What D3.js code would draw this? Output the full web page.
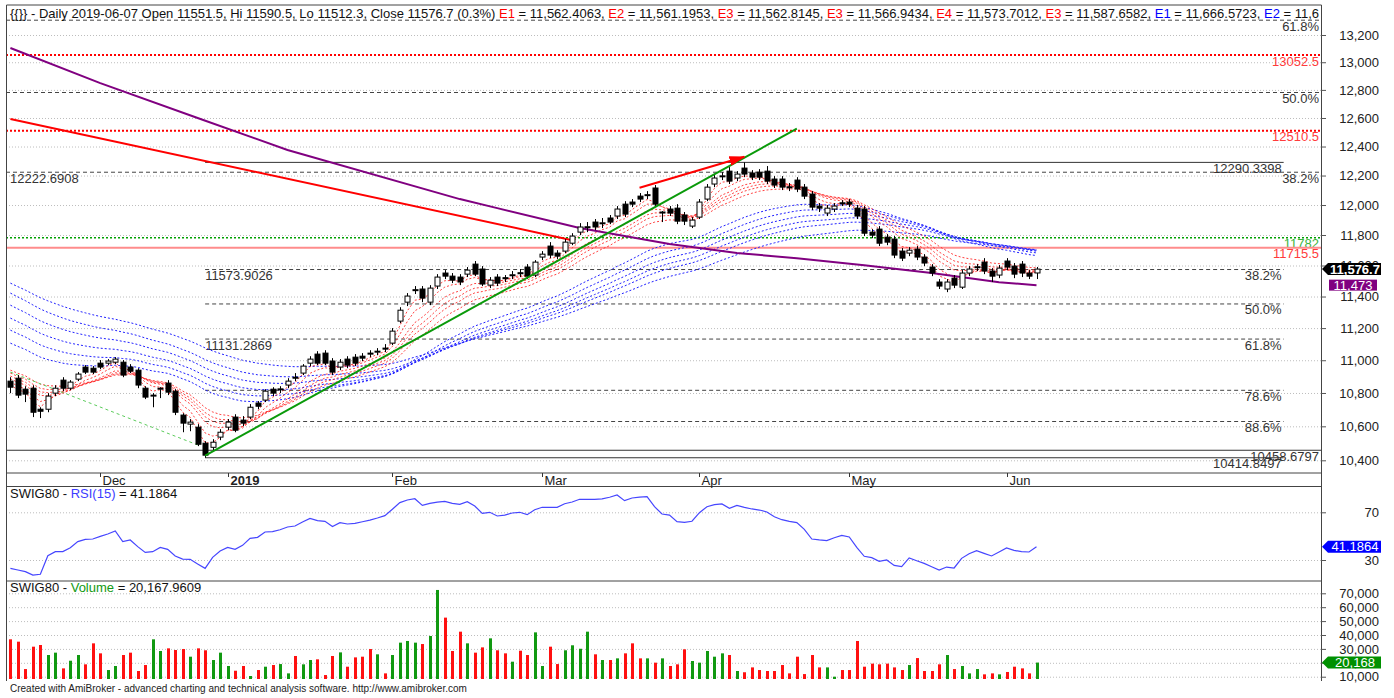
<!DOCTYPE html>
<html>
<head>
<meta charset="utf-8">
<script src="https://cdn.jsdelivr.net/npm/d3@7"></script>
<style>
  body { margin: 0; background: #fff; }
  svg { display: block; font-family: "Liberation Sans", Arial, sans-serif; }
</style>
</head>
<body>
<div id="chart"></div>
<script>
// SWIG80 daily, 2018-11-15 .. 2019-06-07 (one entry per session)
const opens = [
  10872,10890,10823,10829,10702,10702,10799,10878,10829,10884,
  10958,10951,10982,10982,10988,10988,10958,10939,10829,10781,
  10823,10860,10811,10667,10613,10595,10500,10476,10536,10595,
  10655,10637,10655,10739,10757,10823,10821,10848,10896,10921,
  10982,11038,11044,10995,10958,11007,11019,11025,11044,11050,
  11075,11106,11244,11364,11441,11448,11364,11467,11551,11531,
  11525,11544,11609,11577,11473,11525,11521,11536,11553,11590,
  11538,11655,11727,11681,11694,11746,11819,11850,11886,11877,
  11913,11926,12006,12020,12060,12065,12115,11950,11973,11979,
  11933,11859,11919,12040,12142,12194,12230,12183,12251,12217,
  12223,12230,12176,12176,12123,12169,12121,12074,11993,11946,
  11973,12015,12020,11979,11973,11819,11839,11786,11773,11694,
  11681,11707,11655,11590,11493,11448,11518,11460,11551,11588,
  11622,11564,11538,11629,11596,11609,11551,11551.5
];
const highs = [
  10896,10909,10841,10847,10714,10799,10847,10896,10878,10927,
  10970,10964,11001,11007,11019,11001,10976,10951,10841,10799,
  10835,10878,10823,10678,10643,10613,10512,10524,10583,10643,
  10672,10661,10733,10751,10823,10835,10841,10890,10921,10976,
  11025,11056,11062,11013,11007,11025,11038,11044,11062,11075,
  11100,11200,11332,11422,11467,11467,11473,11544,11570,11551,
  11544,11590,11629,11596,11525,11544,11538,11564,11577,11609,
  11635,11694,11753,11700,11773,11812,11879,11886,11906,11913,
  11933,11993,12026,12040,12081,12094,12135,11959,11993,12006,
  11953,11919,12040,12142,12203,12223,12258,12230,12290.34,12237,
  12244,12265,12196,12196,12149,12189,12142,12094,12013,12000,
  12013,12033,12040,12000,11993,11839,11859,11806,11793,11714,
  11720,11727,11674,11609,11512,11512,11538,11570,11596,11609,
  11648,11583,11603,11648,11616,11629,11570,11590.5
];
const lows = [
  10799,10769,10745,10655,10649,10684,10781,10811,10817,10872,
  10915,10915,10945,10970,10976,10896,10921,10829,10763,10714,
  10769,10787,10667,10565,10571,10483,10414.85,10459,10518,10577,
  10565,10601,10643,10702,10745,10781,10799,10829,10872,10909,
  10964,10970,10970,10909,10939,10951,10964,10995,11019,11031,
  11050,11094,11231,11339,11416,11364,11345,11448,11512,11486,
  11473,11525,11531,11467,11454,11467,11493,11512,11525,11512,
  11525,11635,11648,11642,11681,11733,11799,11819,11832,11846,
  11872,11906,11919,11986,12020,12040,11986,11886,11926,11872,
  11866,11846,11906,12026,12121,12169,12142,12162,12189,12169,
  12169,12142,12115,12101,12094,12087,12040,11966,11953,11926,
  11953,11993,11986,11906,11793,11779,11727,11733,11648,11629,
  11661,11635,11596,11531,11448,11428,11454,11448,11531,11564,
  11544,11493,11518,11570,11518,11525,11512,11512.3
];
const closes = [
  10835,10787,10793,10684,10690,10781,10829,10829,10866,10915,
  10927,10927,10958,10995,11007,10909,10933,10848,10775,10787,
  10829,10805,10684,10619,10625,10494,10430,10506,10565,10625,
  10577,10619,10714,10720,10811,10799,10825,10872,10890,10964,
  11007,10982,10982,10927,10988,10970,10982,11013,11038,11056,
  11072,11181,11313,11403,11444,11390,11454,11525,11531,11505,
  11493,11570,11544,11480,11505,11486,11516,11540,11548,11531,
  11622,11674,11668,11661,11753,11793,11853,11855,11853,11881,
  11886,11973,11939,12006,12040,12070,12006,11953,11946,11892,
  11892,11899,12020,12121,12183,12198,12162,12210,12210,12189,
  12189,12162,12135,12121,12119,12108,12060,11986,11979,11979,
  11993,12011,12006,11926,11812,11799,11746,11753,11668,11648,
  11700,11655,11616,11551,11467,11493,11473,11551,11577,11592,
  11564,11531,11583,11590,11544,11551,11531,11576.7
];
const volumes = [
  36900,35200,15500,31600,32800,25600,27300,16000,21500,25600,
  18900,34000,26800,14800,17700,25600,27300,14100,18400,36900,
  28500,30400,29200,29900,24400,30400,29000,22000,27300,17700,
  14300,17700,10500,14800,17200,18400,19100,12400,24900,18900,
  22000,22500,11200,24900,27500,17200,23900,24400,29900,26100,
  12400,25600,34500,35700,34500,33500,39300,72400,52500,28500,
  42400,34000,27300,31100,37600,29000,26800,20800,28700,25600,
  41900,17700,31600,19100,29000,32600,30100,42400,26100,22000,
  22000,23200,26800,34000,23200,23200,20100,23200,17700,18900,
  29700,21300,20100,28500,24400,26800,25600,14100,13200,16700,
  14800,14100,14100,18400,12400,24400,11900,25600,16700,16700,
  10000,14800,14800,35700,17200,19400,18900,19400,16700,14800,
  18400,23400,14100,14100,18900,25600,15500,17700,12400,15500,
  11700,12400,11700,13400,17200,16000,12400,20168
];
const rsi = [
  23.0,21.6,20.2,17.4,18.0,33.6,37.0,37.0,40.3,45.4,
  47.3,47.6,49.8,51.8,54.3,45.4,46.8,41.2,36.4,37.0,
  40.6,38.9,33.4,30.8,30.6,26.6,23.0,32.2,37.5,40.6,
  38.9,42.3,48.2,49.0,53.5,53.8,55.4,57.7,58.5,61.9,
  64.9,63.0,62.4,58.0,61.3,60.2,60.7,62.1,63.5,65.2,
  67.2,72.5,78.1,80.3,81.4,75.8,77.5,78.6,79.2,77.5,
  76.7,78.9,75.3,69.1,70.0,66.9,67.7,69.4,70.0,68.0,
  72.2,74.2,74.2,74.2,77.2,78.6,80.9,80.9,80.9,81.2,
  82.6,84.5,79.8,82.0,82.8,83.1,74.7,68.6,67.7,62.1,
  61.6,62.5,69.7,74.7,76.4,77.0,73.3,75.8,74.2,72.8,
  71.9,70.3,66.3,63.8,62.4,61.3,55.7,47.6,46.8,46.2,
  48.7,50.7,49.3,40.6,33.1,32.0,28.9,30.0,25.5,24.4,
  31.7,29.4,27.2,24.4,21.6,24.1,23.3,31.4,35.3,37.8,
  35.6,33.4,36.7,40.1,38.1,37.0,36.7,41.19
];

// first session of each month (bar index)
const monthTicks = [
  { label: "Dec", bar: 12 }, { label: "2019", bar: 29, bold: true }, { label: "Feb", bar: 51 },
  { label: "Mar", bar: 71 }, { label: "Apr", bar: 92 }, { label: "May", bar: 112 }, { label: "Jun", bar: 133 }
];
const priceTicks = [13200, 13000, 12800, 12600, 12400, 12200, 12000, 11800, 11600, 11400, 11200, 11000, 10800, 10600, 10400];
const rsiTicks = [70, 30];
const volumeTicks = [70000, 60000, 50000, 40000, 30000, 20000, 10000];

// GMMA ribbons: periods and their value on the first bar
const redPeriods = [3, 5, 8, 10, 12, 15];
const redSeeds = [10850, 10868, 10886, 10903, 10921, 10939];
const bluePeriods = [30, 35, 40, 45, 50, 60];
const blueSeeds = [11106, 11187, 11263, 11345, 11422, 11486];

// purple long average [bar, value]
const purpleLine = [[0,13104],[12,12849],[25,12600],[37,12376],[60,12040],[65,11979],[76,11846],
  [88,11740],[97,11681],[105,11648],[114,11602],[123,11551],[132,11492],[137,11473]];

// hand drawn studies [bar, price]
const redTrend = [[0, 12593], [75, 11766]];
const greenTrend = [[26, 10427], [105, 12525]];
const redArrow = [[84, 12117], [98, 12329]];
const greenDashed = [[0, 10927], [25, 10490]];

// fibonacci set over the whole chart
const fibWide = [
  { price: 13310, label: "61.8%" },
  { price: 12781.2, label: "50.0%" },
  { price: 12222.6908, label: "38.2%", left: "12222.6908" }
];
// fibonacci set from the December low
const fibShort = [
  { price: 12290.3398, label: "12290.3398", solid: true },
  { price: 11573.9026, label: "38.2%", left: "11573.9026" },
  { price: 11352.6, label: "50.0%" },
  { price: 11131.2869, label: "61.8%", left: "11131.2869" },
  { price: 10816.2, label: "78.6%" },
  { price: 10628.66, label: "88.6%" },
  { price: 10414.8497, label: "10414.8497", solid: true }
];
const fibShortBars = [26, 170];
const levels = [
  { price: 13052.5, color: "#ff0000", text: "#ff3b3b", width: 2, dash: "2,2" },
  { price: 12510.5, color: "#ff0000", text: "#ff3b3b", width: 2, dash: "2,2" },
  { price: 11782, color: "#00a000", text: "#3cb43c", width: 1.6, dash: "2,2" },
  { price: 11715.5, color: "#ff8c8c", text: "#ff3b3b", width: 2, dash: null },
  { price: 10458.6797, color: "#333", text: "#333", width: 1, dash: null, label: "10458.6797" }
];

// ---------------- layout ----------------
const plotL = 6, plotR = 1321;
const mainTop = 5, mainBot = 473, dateBot = 486.5, rsiBot = 581, volBot = 681;
const n = closes.length;

const svg = d3.select("#chart").append("svg").attr("width", 1394).attr("height", 698);
const defs = svg.append("defs");
defs.append("clipPath").attr("id", "clipMain").append("rect")
  .attr("x", plotL).attr("y", mainTop).attr("width", plotR - plotL).attr("height", mainBot - mainTop);
defs.append("clipPath").attr("id", "clipTitle").append("rect")
  .attr("x", 0).attr("y", 0).attr("width", plotR - 2).attr("height", 40);
defs.append("marker").attr("id", "arrowRed").attr("viewBox", "0 0 16 10")
  .attr("refX", 15).attr("refY", 5).attr("markerWidth", 16).attr("markerHeight", 10)
  .attr("markerUnits", "userSpaceOnUse").attr("orient", "auto")
  .append("path").attr("d", "M0,0L16,5L0,10z").attr("fill", "#ff0000");

const x = d3.scaleLinear().domain([0, n - 1]).range([10.4, 1036.5]);
const y = d3.scaleLog().domain([10400, 13200]).range([460.3, 35]);
const yR = d3.scaleLinear().domain([30, 70]).range([560, 512.3]);
const yV = d3.scaleLinear().domain([8350, 70000]).range([679, 593.3]);

// dotted grid + right axis for a panel
const addGrid = (scale, ticks) => {
  svg.append("g").attr("transform", `translate(${plotL},0)`)
    .call(d3.axisRight(scale).tickValues(ticks).tickSize(plotR - plotL).tickFormat(""))
    .call(g => g.select(".domain").remove())
    .selectAll(".tick line")
    .attr("stroke", "#bdbdbd").attr("stroke-dasharray", "1,2");
};
const addAxis = (scale, ticks, fmt) => {
  const g = svg.append("g").attr("transform", `translate(${plotR},0)`)
    .call(d3.axisRight(scale).tickValues(ticks).tickSize(5).tickFormat(fmt));
  g.select(".domain").remove();
  g.selectAll(".tick line").attr("stroke", "#555");
  g.selectAll("text").attr("x", 58).attr("text-anchor", "end")
    .attr("font-size", 13).attr("fill", "#222");
};

addGrid(y, priceTicks);
addGrid(yR, rsiTicks);
addGrid(yV, volumeTicks);

// ---------------- main panel ----------------
const main = svg.append("g").attr("clip-path", "url(#clipMain)");
const priceLine = d3.line().x(d => x(d[0])).y(d => y(d[1]));

// fib lines across the whole chart
fibWide.forEach(f => {
  main.append("line").attr("x1", plotL).attr("x2", plotR).attr("y1", y(f.price)).attr("y2", y(f.price))
    .attr("stroke", "#444").attr("stroke-dasharray", "4,3");
  main.append("text").attr("x", plotR - 2).attr("y", y(f.price) + 10.5).attr("text-anchor", "end")
    .attr("font-size", 13).attr("fill", "#333").text(f.label);
  if (f.left) main.append("text").attr("x", 10).attr("y", y(f.price) + 10.5)
    .attr("font-size", 13).attr("fill", "#333").text(f.left);
});

// fib lines from the December low
fibShort.forEach(f => {
  const x0 = x(fibShortBars[0]), x1 = x(fibShortBars[1]);
  main.append("line").attr("x1", x0).attr("x2", x1).attr("y1", y(f.price)).attr("y2", y(f.price))
    .attr("stroke", f.solid ? "#333" : "#444").attr("stroke-dasharray", f.solid ? null : "4,3");
  main.append("text").attr("x", x1 - 2).attr("y", y(f.price) + 10.5).attr("text-anchor", "end")
    .attr("font-size", 13).attr("fill", "#333").text(f.label);
  if (f.left) main.append("text").attr("x", x0).attr("y", y(f.price) + 10.5)
    .attr("font-size", 13).attr("fill", "#333").text(f.left);
});

// horizontal price levels
levels.forEach(l => {
  main.append("line").attr("x1", plotL).attr("x2", plotR).attr("y1", y(l.price)).attr("y2", y(l.price))
    .attr("stroke", l.color).attr("stroke-width", l.width).attr("stroke-dasharray", l.dash);
  main.append("text").attr("x", plotR - 2).attr("y", y(l.price) + 10.5).attr("text-anchor", "end")
    .attr("font-size", 13).attr("fill", l.text).text(l.label || l.price);
});

// GMMA ribbons computed from the closes
const ema = (period, seed) => {
  const k = 2 / (period + 1);
  let e = seed;
  return closes.map((c, i) => { if (i > 0) e += k * (c - e); return e; });
};
const ribbonLine = d3.line().x((d, i) => x(i)).y(d => y(d));
bluePeriods.forEach((p, j) => {
  main.append("path").attr("d", ribbonLine(ema(p, blueSeeds[j])))
    .attr("fill", "none").attr("stroke", "#2020ff").attr("stroke-width", 1).attr("stroke-dasharray", "2,2");
});
redPeriods.forEach((p, j) => {
  main.append("path").attr("d", ribbonLine(ema(p, redSeeds[j])))
    .attr("fill", "none").attr("stroke", "#ff2020").attr("stroke-width", 1)
    .attr("stroke-dasharray", "2,2").attr("opacity", 0.85);
});

main.append("path").attr("d", priceLine(greenDashed))
  .attr("fill", "none").attr("stroke", "#5ccc5c").attr("stroke-dasharray", "3,3");

main.append("path").attr("d", priceLine(purpleLine))
  .attr("fill", "none").attr("stroke", "#800080").attr("stroke-width", 2);
main.append("path").attr("d", priceLine(redTrend))
  .attr("fill", "none").attr("stroke", "#ff0000").attr("stroke-width", 2);

// candles
const candle = main.selectAll(".candle").data(d3.range(n)).enter().append("g").attr("class", "candle");
candle.append("line")
  .attr("x1", i => Math.round(x(i)) + 0.5).attr("x2", i => Math.round(x(i)) + 0.5)
  .attr("y1", i => y(highs[i])).attr("y2", i => y(lows[i]))
  .attr("stroke", "#000");
candle.append("rect")
  .attr("x", i => Math.round(x(i)) - 2)
  .attr("y", i => y(Math.max(opens[i], closes[i])))
  .attr("width", 5)
  .attr("height", i => Math.max(y(Math.min(opens[i], closes[i])) - y(Math.max(opens[i], closes[i])), 1))
  .attr("fill", i => closes[i] >= opens[i] ? "#fff" : "#000")
  .attr("stroke", "#000");

main.append("path").attr("d", priceLine(greenTrend))
  .attr("fill", "none").attr("stroke", "#0a9a0a").attr("stroke-width", 2);
main.append("path").attr("d", priceLine(redArrow))
  .attr("fill", "none").attr("stroke", "#ff0000").attr("stroke-width", 2)
  .attr("marker-end", "url(#arrowRed)");

// ---------------- RSI panel ----------------
svg.append("path")
  .attr("d", d3.line().x((d, i) => x(i)).y(d => yR(d))(rsi))
  .attr("fill", "none").attr("stroke", "#4646ff").attr("stroke-width", 1.2);

// ---------------- volume panel ----------------
svg.append("g").selectAll("rect").data(volumes).enter().append("rect")
  .attr("x", (d, i) => Math.round(x(i)) - 1)
  .attr("y", d => yV(d))
  .attr("width", 3)
  .attr("height", d => yV.range()[0] - yV(d))
  .attr("fill", (d, i) => closes[i] >= opens[i] ? "#119911" : "#ff1010");

// ---------------- frames ----------------
const frame = [[plotL, mainTop, plotR, mainTop], [plotL, mainBot, plotR, mainBot], [plotL, dateBot, plotR, dateBot],
  [plotL, rsiBot, plotR, rsiBot], [plotL, mainTop, plotL, volBot], [plotR, mainTop, plotR, volBot]];
svg.append("g").selectAll("line").data(frame).enter().append("line")
  .attr("x1", d => d[0] + 0.5).attr("y1", d => d[1]).attr("x2", d => d[2] + 0.5).attr("y2", d => d[3])
  .attr("stroke", "#444");

// date strip
const dates = svg.append("g");
monthTicks.forEach(m => {
  const tx = Math.round(x(m.bar)) + 0.5;
  dates.append("line").attr("x1", tx).attr("x2", tx).attr("y1", mainBot).attr("y2", mainBot + 4).attr("stroke", "#333");
  dates.append("text").attr("x", tx + 2).attr("y", mainBot + 11.5).attr("font-size", 13)
    .attr("font-weight", m.bold ? "bold" : null).attr("fill", "#222").text(m.label);
});

// right axes
addAxis(y, priceTicks, d3.format(","));
addAxis(yR, rsiTicks, d3.format("d"));
addAxis(yV, volumeTicks, d3.format(","));

// value tags on the axis
const tag = (yy, color, label, bold) => {
  svg.append("path")
    .attr("d", `M${plotR + 1},${yy}L${plotR + 7},${yy - 6}L${plotR + 60},${yy - 6}L${plotR + 60},${yy + 6}L${plotR + 7},${yy + 6}Z`)
    .attr("fill", color);
  svg.append("text").attr("x", plotR + 34).attr("y", yy + 4.5).attr("text-anchor", "middle")
    .attr("font-size", 13).attr("font-weight", bold ? "bold" : null).attr("fill", "#fff").text(label);
};
tag(y(closes[n - 1]), "#000", d3.format(",.1f")(closes[n - 1]), true);
const lastPurple = purpleLine[purpleLine.length - 1][1];
svg.append("rect").attr("x", plotR + 8).attr("y", y(lastPurple) - 5.5).attr("width", 48).attr("height", 11)
  .attr("fill", "#800080");
svg.append("text").attr("x", plotR + 32).attr("y", y(lastPurple) + 4.5).attr("text-anchor", "middle")
  .attr("font-size", 13).attr("fill", "#fff").text(d3.format(",")(lastPurple));
tag(yR(rsi[n - 1]), "#0000ff", "41.1864", false);
tag(yV(volumes[n - 1]), "#009000", d3.format(",")(volumes[n - 1]), false);

// ---------------- titles ----------------
const title = svg.append("text").attr("x", 10).attr("y", 17.5).attr("font-size", 13)
  .attr("fill", "#111").attr("clip-path", "url(#clipTitle)");
const titleParts = [
  ["{{}} - Daily 2019-06-07 Open 11551.5, Hi 11590.5, Lo 11512.3, Close 11576.7 (0.3%) ", null],
  ["E1", "#ff0000"], [" = 11,562.4063, ", null], ["E2", "#ff0000"], [" = 11,561.1953, ", null],
  ["E3", "#ff0000"], [" = 11,562.8145, ", null], ["E3", "#ff0000"], [" = 11,566.9434, ", null],
  ["E4", "#ff0000"], [" = 11,573.7012, ", null], ["E3", "#ff0000"], [" = 11,587.6582, ", null],
  ["E1", "#0000ff"], [" = 11,666.5723, ", null], ["E2", "#0000ff"], [" = 11,679.1182", null]
];
titleParts.forEach(p => title.append("tspan").attr("fill", p[1]).text(p[0]));

const rsiTitle = svg.append("text").attr("x", 10).attr("y", rsiBot - 83).attr("font-size", 13).attr("fill", "#111");
rsiTitle.append("tspan").text("SWIG80 - ");
rsiTitle.append("tspan").attr("fill", "#3c3cff").text("RSI(15)");
rsiTitle.append("tspan").text(" = 41.1864");

const volTitle = svg.append("text").attr("x", 10).attr("y", rsiBot + 11).attr("font-size", 13).attr("fill", "#111");
volTitle.append("tspan").text("SWIG80 - ");
volTitle.append("tspan").attr("fill", "#119911").text("Volume");
volTitle.append("tspan").text(" = 20,167.9609");

svg.append("text").attr("x", 10).attr("y", 692).attr("font-size", 10).attr("fill", "#222")
  .text("Created with AmiBroker - advanced charting and technical analysis software. http://www.amibroker.com");
</script>
</body>
</html>
